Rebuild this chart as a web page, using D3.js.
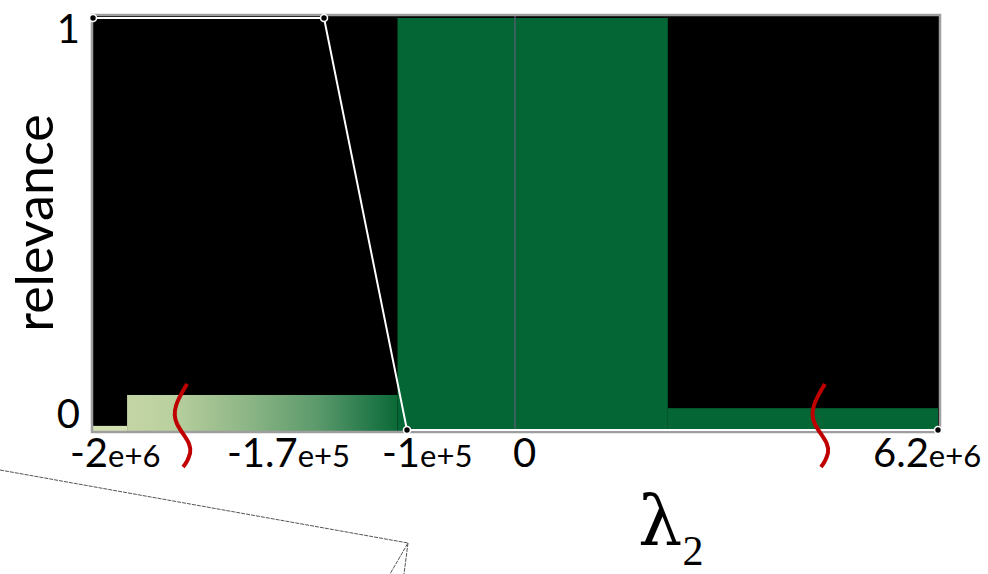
<!DOCTYPE html>
<html><head><meta charset="utf-8">
<script src="https://cdn.jsdelivr.net/npm/d3@7"></script>
<style>body{margin:0;background:#fff}svg{display:block}</style>
</head><body>
<svg id="c" width="988" height="574"></svg>
<script>
// ---- data ----
const tickValues = [-2e6, -1.7e5, -1e5, 0, 6.2e6];
const tickMain   = ["-2", "-1.7", "-1", "0", "6.2"];
const tickExp    = ["e+6", "e+5", "e+5", "", "e+6"];
const yTicks     = [0, 1];
const relX       = [-2e6, -1.7e5, -1e5, 6.2e6];   // relevance curve
const relY       = [1, 1, 0, 0];
const stripX     = [-2e6, -1.73e6];  const stripH = 0.01;   // tiny light strip
const gradX      = [-1.73e6, -1.08e5]; const gradH = 0.085; // gradient block
const greenX     = [-1.08e5, 2.24e6];  const greenH = 1;    // full green band
const rightX     = [2.24e6, 6.2e6];    const rightH = 0.053;// low green band
const breaksX    = [-1.31e6, 4.44e6];                       // axis break marks

// ---- layout ----
const svg = d3.select("#c");
const L = 93, R = 939, T = 16, B = 430;
const x = d3.scaleLinear().domain(tickValues).range([93, 324, 407, 515, 938]);
const y = d3.scaleLinear().domain([0, 1]).range([430, 18]);

const defs = svg.append("defs");
const g = defs.append("linearGradient").attr("id","gr").attr("x1","0").attr("x2","1").attr("y1","0").attr("y2","0");
[[0,"#c4d5a4"],[0.15,"#bcd1a0"],[0.45,"#8cb585"],[0.7,"#5c9a6c"],[0.9,"#25794a"],[1,"#0b6a37"]]
  .forEach(s=>g.append("stop").attr("offset",s[0]).attr("stop-color",s[1]));

// background
svg.append("rect").attr("x",L).attr("y",T).attr("width",R-L).attr("height",B-T+1).attr("fill","#000");

// regions
function band(xs, h, fill){
  const top = Math.max(T, y(h));
  svg.append("rect").attr("x",x(xs[0])).attr("y",top).attr("width",x(xs[1])-x(xs[0]))
    .attr("height",y(0)-top+1).attr("fill",fill);
}
band(stripX, stripH, "#d3e1b3");
band(gradX, gradH, "url(#gr)");
band(greenX, greenH, "#046634");
band(rightX, rightH, "#046634");

// zero line
svg.append("line").attr("x1",x(0)).attr("x2",x(0)).attr("y1",T).attr("y2",B)
  .attr("stroke","#5c5c7a").attr("stroke-width",1.2);

// frame
svg.append("rect").attr("x",92).attr("y",15).attr("width",848).attr("height",417)
  .attr("fill","none").attr("stroke","#9e9e9e").attr("stroke-width",2.5);

// relevance curve
const pts = relX.map((v,i)=>[x(v), y(relY[i])]);
svg.append("path").attr("d", d3.line()(pts)).attr("fill","none").attr("stroke","#fff").attr("stroke-width",2);
svg.selectAll("circle.p").data(pts).join("circle").attr("class","p")
  .attr("cx",d=>d[0]).attr("cy",d=>d[1]).attr("r",3.5)
  .attr("fill","#000").attr("stroke","#fff").attr("stroke-width",1.6);

// break marks
breaksX.forEach(v=>{
  const cx = x(v);
  const p = d3.path();
  p.moveTo(cx+7, 384);
  p.bezierCurveTo(cx-3, 400, cx-9, 412, cx-3, 424);
  p.bezierCurveTo(cx+3, 436, cx+12, 443, cx+10, 453);
  p.quadraticCurveTo(cx+8, 461, cx+3, 467);
  svg.append("path").attr("d",p.toString()).attr("fill","none").attr("stroke","#c00000")
    .attr("stroke-width",4).attr("stroke-linecap","butt");
});

// x tick labels
const font = "Lato, 'Open Sans', sans-serif";
const dxs = [-23, -97, -25, -2, -65];
tickValues.forEach((v,i)=>{
  const t = svg.append("text").attr("x", x(v)+dxs[i]).attr("y",467)
    .attr("font-family",font).attr("fill","#000");
  t.append("tspan").attr("font-size",40).text(tickMain[i]);
  if (tickExp[i]) t.append("tspan").attr("font-size",31).text(tickExp[i]);
});

// y tick labels
yTicks.forEach(v=>{
  svg.append("text").attr("x",80).attr("y", v===1 ? 43 : 428).attr("text-anchor","end")
    .attr("font-family",font).attr("font-size",40).attr("fill","#000").text(v);
});

// axis titles
svg.append("text").attr("transform","translate(53,223) rotate(-90)").attr("text-anchor","middle")
  .attr("font-family",font).attr("font-size",52).attr("fill","#000").text("relevance");
const lt = svg.append("text").attr("x",638).attr("y",545).attr("font-family","'DejaVu Serif', 'Liberation Serif', serif").attr("fill","#000");
lt.append("tspan").attr("font-size",70).text("λ");
lt.append("tspan").attr("font-size",42).attr("dy",20).attr("font-family","'Liberation Serif', serif").text("2");

// callout lines
svg.append("path").attr("d","M0,470 L408,543 L390,574 M408,543 L404,574")
  .attr("fill","none").attr("stroke","#555").attr("stroke-width",1).attr("stroke-dasharray","4,1");
</script>
</body></html>
